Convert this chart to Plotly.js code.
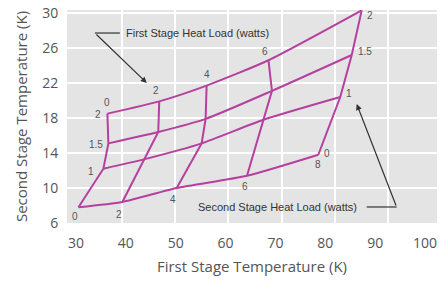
<!DOCTYPE html>
<html>
<head>
<meta charset="utf-8">
<script src="https://cdn.plot.ly/plotly-3.0.1.min.js"></script>
<style>html,body{margin:0;padding:0;background:#fff;}#chart{width:440px;height:282px;}</style>
</head>
<body>
<div id="chart"></div>
<script>
// First stage heat loads (watts) and second stage heat loads (watts)
const firstLoads = [0, 2, 4, 6, 8];
const secondLoads = [0, 1, 1.5, 2];

// Temperatures at each first-stage load, for each second-stage load line
const firstTempQ2_0  = [30.5, 39.3, 50.2, 64.3, 78.6];
const secondTempQ2_0 = [7.8, 8.4, 10.0, 11.4, 13.8];
const firstTempQ2_1  = [35.5, 43.8, 55.2, 67.6, 83.0];
const secondTempQ2_1 = [12.2, 13.3, 15.1, 17.8, 20.4];
const firstTempQ2_15  = [36.5, 46.5, 56.0, 69.3, 85.3];
const secondTempQ2_15 = [15.1, 16.4, 17.9, 21.1, 25.2];
const firstTempQ2_2  = [36.3, 46.7, 56.2, 68.6, 87.3];
const secondTempQ2_2 = [18.5, 19.9, 21.7, 24.6, 30.3];

const xTicks = [30, 40, 50, 60, 70, 80, 90, 100];
const yTicks = [6, 10, 14, 18, 22, 26, 30];

const lineColor = '#b6409f';
const xRows = [firstTempQ2_0, firstTempQ2_1, firstTempQ2_15, firstTempQ2_2];
const yRows = [secondTempQ2_0, secondTempQ2_1, secondTempQ2_15, secondTempQ2_2];

const traces = [];
// constant second-stage load lines
for (let i = 0; i < secondLoads.length; i++) {
  traces.push({x: xRows[i], y: yRows[i], mode: 'lines', type: 'scatter',
    line: {color: lineColor, width: 2, shape: 'spline', smoothing: 0.6}, hoverinfo: 'skip'});
}
// constant first-stage load lines
for (let j = 0; j < firstLoads.length; j++) {
  traces.push({x: xRows.map(r => r[j]), y: yRows.map(r => r[j]), mode: 'lines', type: 'scatter',
    line: {color: lineColor, width: 2}, hoverinfo: 'skip'});
}
// carrier for the background grid axis
traces.push({x: [], y: [], xaxis: 'x2', yaxis: 'y', type: 'scatter', mode: 'lines', hoverinfo: 'skip'});

const lblFont = {family: 'Liberation Sans, Arial, sans-serif', size: 10, color: '#555'};
const annotations = [];
function lab(text, x, y, dx, dy) {
  annotations.push({text: String(text), x: x, y: y, xref: 'x', yref: 'y', showarrow: false,
    xshift: dx, yshift: dy, font: lblFont});
}
// first-stage load labels, top row (Q2 = 2) for 0..6
for (let j = 0; j < 4; j++) lab(firstLoads[j], firstTempQ2_2[j], secondTempQ2_2[j], j % 2 ? -3 : 0, j === 3 ? 9 : 11);
// first-stage load labels, bottom row (Q2 = 0) for 2..8
const botShift = [[0,0],[-3,-12],[-4,-11],[-2,-11],[0,-10]];
for (let j = 1; j < 5; j++) lab(firstLoads[j], firstTempQ2_0[j], secondTempQ2_0[j], botShift[j][0], botShift[j][1]);
// second-stage load labels, left side (Q1 = 0)
const leftShift = [[-3,-9],[-12,-3],[-12,-1],[-9,-1]];
for (let i = 0; i < 4; i++) lab(secondLoads[i], xRows[i][0], yRows[i][0], leftShift[i][0], leftShift[i][1]);
// second-stage load labels, right side (Q1 = 8)
const rightShift = [[9,1],[9,3],[13,3],[8,-5]];
for (let i = 0; i < 4; i++) lab(secondLoads[i], xRows[i][4], yRows[i][4], rightShift[i][0], rightShift[i][1]);

const noteFont = {family: 'Liberation Sans, Arial, sans-serif', size: 11, color: '#333'};
annotations.push({text: 'First Stage Heat Load (watts)', x: 39.6, y: 27.71, xref: 'x', yref: 'y',
  xanchor: 'left', showarrow: false, font: noteFont});
annotations.push({text: '', x: 44.2, y: 22.0, ax: 33.8, ay: 27.71, xref: 'x', yref: 'y', axref: 'x', ayref: 'y',
  showarrow: true, arrowhead: 2, arrowsize: 1, arrowwidth: 1.2, arrowcolor: '#333', standoff: 0});
annotations.push({text: 'Second Stage Heat Load (watts)', x: 86.7, y: 7.86, xref: 'x', yref: 'y',
  xanchor: 'right', showarrow: false, font: noteFont});
annotations.push({text: '', x: 86.3, y: 19.6, ax: 94.3, ay: 7.83, xref: 'x', yref: 'y', axref: 'x', ayref: 'y',
  showarrow: true, arrowhead: 2, arrowsize: 1, arrowwidth: 1.2, arrowcolor: '#333', standoff: 0});

const shapes = [
  {type: 'line', xref: 'x', yref: 'y', x0: 33.8, y0: 27.71, x1: 38.8, y1: 27.71, line: {color: '#333', width: 1.2}},
  {type: 'line', xref: 'x', yref: 'y', x0: 88.3, y0: 7.83, x1: 94.3, y1: 7.83, line: {color: '#333', width: 1.2}}
];

const tickFont = {family: 'Open Sans, sans-serif', size: 14, color: '#555'};
const layout = {
  width: 440, height: 282,
  margin: {l: 67, r: 3, t: 10, b: 59},
  paper_bgcolor: '#ffffff', plot_bgcolor: '#e4e4e4',
  showlegend: false,
  xaxis: {range: [28.2, 102.4], tickvals: xTicks, showgrid: false, zeroline: false,
    ticks: 'outside', ticklen: 7, tickcolor: 'rgba(0,0,0,0)', tickfont: tickFont, showline: false,
    title: {text: 'First Stage Temperature (K)', font: {family: 'Open Sans, sans-serif', size: 15, color: '#555'}, standoff: 10}},
  xaxis2: {overlaying: 'x', range: [-0.034, 6.921], tickvals: [1, 2, 3, 4, 5, 6], showticklabels: false,
    showgrid: true, gridcolor: '#ffffff', gridwidth: 2, zeroline: false, ticks: ''},
  yaxis: {range: [6, 30.34], tickvals: yTicks, showgrid: true, gridcolor: '#ffffff', gridwidth: 2, zeroline: false,
    ticks: 'outside', ticklen: 5, tickcolor: 'rgba(0,0,0,0)', tickfont: tickFont,
    title: {text: 'Second Stage Temperature (K)', font: {family: 'Open Sans, sans-serif', size: 15, color: '#555'}, standoff: 10}},
  annotations: annotations,
  shapes: shapes
};
Plotly.newPlot('chart', traces, layout, {staticPlot: true, displayModeBar: false});
</script>
</body>
</html>
